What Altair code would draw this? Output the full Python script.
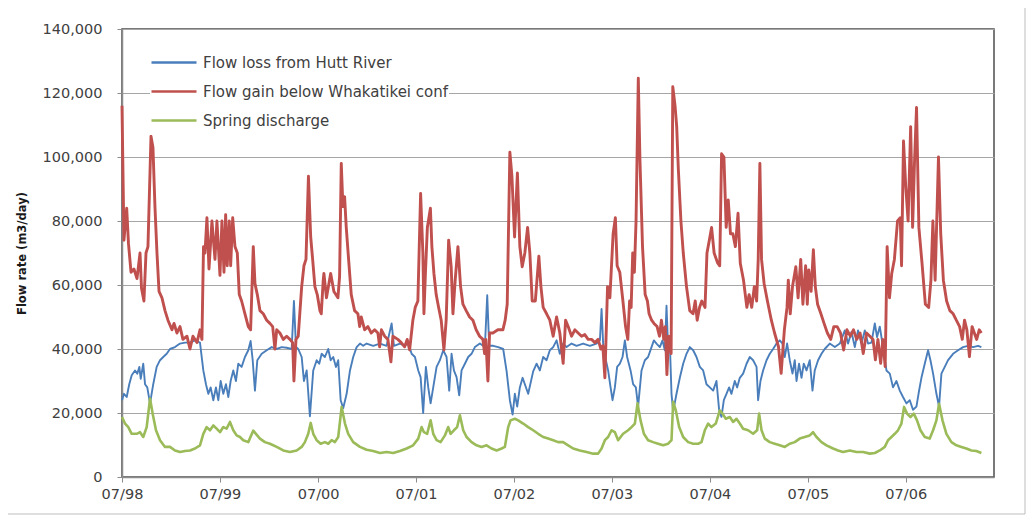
import altair as alt
import pandas as pd

SERIES = ["Flow loss from Hutt River", "Flow gain below Whakatikei conf", "Spring discharge"]
COLORS = ["#4a7ebb", "#c0504d", "#9bbb59"]
WIDTHS = [1.9, 2.9, 2.6]

# (decimal year, thousand m3/day)
flow_loss = [(1998.500,24),(1998.520,26),(1998.548,25),(1998.574,29),(1998.599,31.8),(1998.633,33.3),(1998.656,32.3),(1998.677,34.4),(1998.691,30.7),(1998.717,35.4),(1998.735,29),(1998.758,28),(1998.786,23),(1998.819,29),(1998.854,34.4),(1998.888,36.5),(1998.921,37.5),(1998.956,38.5),(1998.990,40),(1999.041,40.6),(1999.092,41.7),(1999.143,42),(1999.194,42),(1999.245,42.7),(1999.296,42),(1999.330,33.3),(1999.357,29),(1999.381,26),(1999.405,28),(1999.432,24),(1999.459,28),(1999.483,24),(1999.507,30),(1999.534,26),(1999.561,29),(1999.585,25),(1999.609,30),(1999.636,33.3),(1999.663,30),(1999.687,35.4),(1999.721,34.4),(1999.755,37.5),(1999.789,39.6),(1999.813,42.5),(1999.834,36.5),(1999.857,27),(1999.881,36.5),(1999.926,38.5),(1999.977,39.6),(2000.028,40.6),(2000.079,40),(2000.130,40.6),(2000.181,40.4),(2000.232,40),(2000.255,55),(2000.276,40.6),(2000.299,40),(2000.334,37.5),(2000.357,30),(2000.385,33.3),(2000.418,19),(2000.452,33.3),(2000.487,36.5),(2000.513,35.4),(2000.538,38.5),(2000.571,37.5),(2000.605,40),(2000.630,36.5),(2000.656,37.5),(2000.684,34.4),(2000.707,36.5),(2000.732,24),(2000.758,21.5),(2000.793,26),(2000.827,33.3),(2000.860,37.5),(2000.895,40.6),(2000.929,41.7),(2000.962,41),(2000.997,41.7),(2001.064,41),(2001.133,41.7),(2001.201,41),(2001.252,48),(2001.276,41),(2001.337,41.7),(2001.388,41),(2001.421,42),(2001.456,38.5),(2001.490,37.5),(2001.524,33.3),(2001.548,31.2),(2001.574,20),(2001.602,34.4),(2001.626,28),(2001.650,23),(2001.677,28),(2001.711,34.4),(2001.745,36.5),(2001.779,39.6),(2001.813,37.5),(2001.840,27),(2001.864,38.5),(2001.888,33.3),(2001.915,31.2),(2001.942,25.5),(2001.966,33.3),(2002.000,35.4),(2002.034,37.5),(2002.068,38.5),(2002.102,40.6),(2002.153,41.7),(2002.204,40.6),(2002.228,56.8),(2002.248,41),(2002.289,41),(2002.340,40.6),(2002.391,40),(2002.426,33),(2002.459,24),(2002.487,19.5),(2002.510,26),(2002.534,22),(2002.561,28),(2002.589,31),(2002.612,29),(2002.646,26),(2002.697,33),(2002.732,35.4),(2002.765,33.3),(2002.799,37.5),(2002.834,36.5),(2002.867,39.6),(2002.901,40.6),(2002.936,42.7),(2002.969,38.5),(2003.003,41.7),(2003.038,40.6),(2003.089,41.7),(2003.140,41),(2003.207,41.7),(2003.276,41),(2003.344,41.7),(2003.378,42.7),(2003.395,52.5),(2003.411,41.7),(2003.439,36.5),(2003.462,33.3),(2003.487,28),(2003.507,24),(2003.531,28),(2003.554,34.4),(2003.582,35.4),(2003.609,37.5),(2003.633,42.7),(2003.656,37.5),(2003.691,33.3),(2003.717,29),(2003.745,28),(2003.768,22),(2003.803,33.3),(2003.837,36.5),(2003.870,37.5),(2003.905,40.6),(2003.929,42.7),(2003.956,41.7),(2003.990,40.6),(2004.017,42.7),(2004.041,39.6),(2004.058,53.5),(2004.075,39.6),(2004.092,41.7),(2004.109,26),(2004.126,20.5),(2004.160,26),(2004.194,31),(2004.228,35.4),(2004.262,38.5),(2004.296,40.6),(2004.330,39.6),(2004.364,37.5),(2004.398,34.4),(2004.432,33.3),(2004.466,29),(2004.500,28),(2004.534,27),(2004.568,30),(2004.595,21),(2004.619,18.8),(2004.643,24),(2004.670,26),(2004.697,28),(2004.721,26),(2004.755,30),(2004.779,28),(2004.806,31),(2004.840,32.3),(2004.875,35.4),(2004.908,37.5),(2004.942,36.5),(2004.977,34.4),(2004.993,24),(2005.017,30),(2005.044,33.3),(2005.079,36.5),(2005.112,38.5),(2005.146,40),(2005.181,41.7),(2005.214,42.7),(2005.242,41.7),(2005.265,37.5),(2005.289,41.7),(2005.316,36.5),(2005.344,32.3),(2005.367,36.5),(2005.385,30),(2005.411,35.4),(2005.436,31),(2005.459,35.4),(2005.487,33.3),(2005.520,36.5),(2005.548,27),(2005.571,33.3),(2005.605,36.5),(2005.640,38.5),(2005.673,40),(2005.724,41.7),(2005.776,40.6),(2005.827,41.7),(2005.878,45.8),(2005.911,41.7),(2005.946,45.3),(2005.980,40.6),(2006.013,45.8),(2006.048,41.7),(2006.082,45.8),(2006.115,41.7),(2006.150,42),(2006.184,48),(2006.207,43.75),(2006.235,47),(2006.268,40.6),(2006.303,33.3),(2006.337,32.3),(2006.370,28),(2006.405,30),(2006.439,27),(2006.472,25),(2006.507,23),(2006.541,24),(2006.574,21),(2006.609,22),(2006.636,27),(2006.660,31),(2006.694,35.4),(2006.728,39.6),(2006.752,36.5),(2006.779,32.3),(2006.813,26),(2006.840,22),(2006.864,32.3),(2006.898,34.4),(2006.932,36.5),(2006.983,38.5),(2007.034,39.6),(2007.085,40.6),(2007.136,41),(2007.187,40.6),(2007.238,41),(2007.272,40.6)]

flow_gain = [(1998.500,116),(1998.520,74),(1998.548,84),(1998.566,73),(1998.592,64),(1998.622,65),(1998.653,62),(1998.684,70),(1998.699,59),(1998.724,55),(1998.745,70),(1998.765,72),(1998.796,106.5),(1998.816,103),(1998.837,84),(1998.857,70),(1998.878,58),(1998.908,56),(1998.939,52),(1998.969,49),(1999.010,46),(1999.031,48),(1999.061,45),(1999.092,47),(1999.122,43),(1999.163,44),(1999.194,40),(1999.224,44),(1999.265,42),(1999.296,46),(1999.316,43),(1999.332,72),(1999.347,70),(1999.367,81),(1999.388,65),(1999.418,80),(1999.449,68),(1999.469,80),(1999.500,63),(1999.520,80),(1999.541,64),(1999.558,82),(1999.574,66),(1999.595,80),(1999.609,66),(1999.630,81),(1999.653,72),(1999.677,70),(1999.697,57),(1999.721,55),(1999.755,51),(1999.789,47),(1999.813,46),(1999.840,72),(1999.857,60.5),(1999.881,57),(1999.908,52),(1999.942,51),(1999.977,49),(2000.010,48),(2000.038,47),(2000.061,40),(2000.079,46),(2000.112,45),(2000.146,43),(2000.181,44),(2000.214,43),(2000.242,42),(2000.255,30),(2000.276,43),(2000.299,44),(2000.334,59.5),(2000.357,66),(2000.378,68),(2000.403,94),(2000.426,75),(2000.446,68),(2000.469,59.5),(2000.493,57),(2000.520,52),(2000.534,51),(2000.554,61.5),(2000.561,63.6),(2000.587,56),(2000.630,63.6),(2000.663,58),(2000.704,56),(2000.721,62.6),(2000.738,98),(2000.755,84.5),(2000.772,87.6),(2000.789,78),(2000.813,68),(2000.840,57),(2000.874,52),(2000.908,51),(2000.926,47),(2000.942,50),(2000.977,46),(2001.010,47),(2001.044,45),(2001.079,46),(2001.112,45),(2001.130,40.7),(2001.148,46),(2001.181,44),(2001.214,43),(2001.245,36),(2001.265,44),(2001.316,43),(2001.350,42),(2001.385,40.7),(2001.411,43),(2001.436,39.7),(2001.469,49),(2001.493,53),(2001.520,55),(2001.548,88.6),(2001.571,70),(2001.582,51),(2001.597,63.6),(2001.617,78),(2001.648,84),(2001.663,72),(2001.684,63.6),(2001.707,57),(2001.732,53),(2001.758,49),(2001.786,39.7),(2001.809,49),(2001.834,74),(2001.860,65.7),(2001.878,51),(2001.901,61.5),(2001.929,72),(2001.956,59.5),(2001.980,54),(2002.013,52),(2002.048,50),(2002.082,49),(2002.115,46),(2002.150,44),(2002.184,43),(2002.201,38.6),(2002.214,43),(2002.235,30),(2002.252,45),(2002.286,45),(2002.337,46),(2002.388,46),(2002.411,49),(2002.432,54),(2002.459,101.5),(2002.480,94),(2002.507,75),(2002.536,95),(2002.561,72),(2002.585,65.7),(2002.612,70),(2002.640,78),(2002.663,70),(2002.687,55),(2002.719,55),(2002.755,69),(2002.776,59.5),(2002.799,53),(2002.834,51),(2002.867,49),(2002.901,44),(2002.936,50),(2002.969,45),(2003.003,35.5),(2003.028,49),(2003.054,47),(2003.089,44),(2003.122,46),(2003.156,45),(2003.191,44),(2003.224,44.5),(2003.258,43),(2003.293,43),(2003.327,42),(2003.360,43),(2003.388,40),(2003.408,41),(2003.429,31),(2003.456,59.5),(2003.480,56),(2003.513,76),(2003.536,81),(2003.554,66),(2003.581,64),(2003.613,55),(2003.640,47),(2003.663,43),(2003.681,55),(2003.697,53),(2003.713,70),(2003.730,64),(2003.747,80),(2003.770,124.6),(2003.787,99),(2003.813,72),(2003.840,57),(2003.863,55),(2003.880,51),(2003.906,49),(2003.930,48),(2003.962,47),(2003.986,44),(2004.006,49),(2004.030,43),(2004.046,47),(2004.062,32),(2004.079,44),(2004.105,38.6),(2004.122,122),(2004.146,115.7),(2004.162,109.5),(2004.179,96),(2004.205,80),(2004.229,70),(2004.262,59.5),(2004.295,52),(2004.329,51),(2004.351,55),(2004.371,49),(2004.395,53),(2004.418,55),(2004.451,53),(2004.471,70),(2004.495,74),(2004.518,78),(2004.544,70),(2004.578,67),(2004.601,66),(2004.620,101),(2004.644,100),(2004.667,78),(2004.688,86.6),(2004.711,76),(2004.735,76),(2004.761,72),(2004.788,82.4),(2004.811,66.8),(2004.844,61.5),(2004.878,53),(2004.901,57),(2004.928,53),(2004.954,59.5),(2004.978,55),(2004.994,68),(2005.011,98),(2005.028,68),(2005.054,60.5),(2005.088,55),(2005.128,49),(2005.161,45),(2005.201,40.7),(2005.228,32.4),(2005.261,46),(2005.288,53),(2005.301,61.5),(2005.321,51),(2005.344,59.5),(2005.378,65.7),(2005.401,56),(2005.428,68),(2005.450,54),(2005.478,66),(2005.495,54),(2005.510,64.7),(2005.534,58),(2005.557,71),(2005.577,59.5),(2005.600,54),(2005.634,51),(2005.666,48),(2005.700,45),(2005.734,43),(2005.766,47),(2005.800,47),(2005.834,45),(2005.866,39.7),(2005.900,46),(2005.934,44),(2005.966,46),(2006.000,43),(2006.034,45),(2006.066,38.6),(2006.100,45),(2006.134,44),(2006.166,43),(2006.190,36.6),(2006.216,43),(2006.244,35.5),(2006.266,43),(2006.290,34.5),(2006.310,72),(2006.334,56),(2006.357,63.6),(2006.384,68),(2006.416,80),(2006.444,81),(2006.457,66),(2006.477,105),(2006.500,90.7),(2006.524,80),(2006.550,109.5),(2006.570,78),(2006.590,99),(2006.610,115.5),(2006.634,78),(2006.666,66.8),(2006.700,54),(2006.734,53),(2006.757,61.5),(2006.777,80),(2006.800,61.5),(2006.834,100),(2006.857,76),(2006.884,61.5),(2006.917,55),(2006.950,52),(2006.984,51),(2007.016,49),(2007.050,47),(2007.077,43),(2007.100,49),(2007.124,46),(2007.150,37.6),(2007.177,47),(2007.200,45),(2007.224,43),(2007.250,46),(2007.272,45)]

spring = [(1998.500,18.75),(1998.531,16.7),(1998.564,15.6),(1998.599,13.5),(1998.650,13.5),(1998.684,14),(1998.717,12.5),(1998.752,15.6),(1998.786,24.5),(1998.813,19.8),(1998.847,14.6),(1998.888,11.5),(1998.939,9.4),(1998.990,9.4),(1999.041,8.3),(1999.092,7.8),(1999.143,8.1),(1999.194,8.3),(1999.245,8.9),(1999.296,9.9),(1999.330,13.5),(1999.364,15.6),(1999.398,14.6),(1999.432,16.1),(1999.466,15.1),(1999.500,14),(1999.534,15.6),(1999.568,15.1),(1999.602,17.2),(1999.636,14.6),(1999.670,13),(1999.704,12.5),(1999.738,11.5),(1999.789,10.9),(1999.840,14.5),(1999.867,13.5),(1999.908,12),(1999.959,10.9),(2000.010,10.4),(2000.079,9.4),(2000.146,8.3),(2000.214,7.8),(2000.283,8.3),(2000.334,9.4),(2000.367,10.9),(2000.401,13.5),(2000.426,16.9),(2000.452,13.5),(2000.487,11.5),(2000.528,10.4),(2000.571,10.9),(2000.605,10.4),(2000.640,11.5),(2000.673,10.9),(2000.707,12.5),(2000.742,21.9),(2000.776,16.7),(2000.809,13.5),(2000.860,10.9),(2000.929,9.4),(2000.997,8.5),(2001.064,8.1),(2001.133,7.5),(2001.201,7.8),(2001.268,7.5),(2001.337,8.1),(2001.405,8.9),(2001.472,9.9),(2001.524,12),(2001.558,15.6),(2001.582,14),(2001.615,13.5),(2001.650,17.7),(2001.677,13.5),(2001.711,11.5),(2001.752,10.9),(2001.796,13),(2001.830,15.6),(2001.854,13.5),(2001.888,14.6),(2001.921,15.6),(2001.949,19.3),(2001.983,14.6),(2002.017,12.5),(2002.068,10.9),(2002.119,9.9),(2002.170,9.4),(2002.221,9.9),(2002.272,8.9),(2002.324,8.3),(2002.375,8.9),(2002.408,9.4),(2002.442,15.6),(2002.466,17.7),(2002.510,18.2),(2002.544,17.7),(2002.595,16.7),(2002.646,15.6),(2002.697,14.6),(2002.748,13.5),(2002.799,12.5),(2002.850,12),(2002.901,11.5),(2002.952,10.9),(2003.003,10.9),(2003.054,9.9),(2003.105,8.9),(2003.173,8.3),(2003.242,7.8),(2003.309,7.3),(2003.360,7.3),(2003.395,8.9),(2003.429,11.5),(2003.462,12.5),(2003.497,14.6),(2003.531,14),(2003.564,11.5),(2003.615,13.5),(2003.666,14.6),(2003.701,15.6),(2003.735,16.7),(2003.762,23),(2003.793,17.7),(2003.827,13.5),(2003.870,11.5),(2003.921,10.9),(2003.972,10.4),(2004.024,9.9),(2004.075,10.4),(2004.109,11.5),(2004.126,23.5),(2004.153,20.8),(2004.187,15.6),(2004.228,12.5),(2004.279,10.9),(2004.330,10.4),(2004.381,10.4),(2004.415,10.9),(2004.449,14.6),(2004.483,16.7),(2004.517,15.6),(2004.561,16.7),(2004.602,20.8),(2004.630,19.8),(2004.663,18.2),(2004.704,18.75),(2004.738,17.2),(2004.772,18.2),(2004.806,16.7),(2004.840,15.1),(2004.891,14.6),(2004.942,13.5),(2004.983,14.6),(2005.003,19.8),(2005.028,14.6),(2005.061,12),(2005.112,10.9),(2005.163,10.4),(2005.214,9.9),(2005.265,9.4),(2005.316,10.4),(2005.367,10.9),(2005.418,12),(2005.469,12.5),(2005.520,13),(2005.554,14),(2005.589,12.5),(2005.640,10.9),(2005.691,9.9),(2005.758,8.9),(2005.809,8.3),(2005.860,7.8),(2005.929,8.3),(2005.997,7.8),(2006.064,7.8),(2006.133,7.3),(2006.184,7.5),(2006.235,8.3),(2006.286,9.4),(2006.319,11.5),(2006.354,12.5),(2006.388,13.5),(2006.421,14.6),(2006.456,16.7),(2006.483,21.9),(2006.513,19.8),(2006.548,18.75),(2006.582,19.8),(2006.615,17.7),(2006.650,14.6),(2006.694,12.5),(2006.745,12),(2006.779,14.6),(2006.813,17.7),(2006.840,22.9),(2006.875,17.7),(2006.915,13.5),(2006.966,10.9),(2007.017,9.9),(2007.068,9.4),(2007.119,8.9),(2007.170,8.3),(2007.221,8.1),(2007.272,7.5)]

TICK_YEARS = list(range(1998, 2007))
Y_TICKS = list(range(0, 140001, 20000))


def to_rows(pairs, name):
    base = pd.Timestamp("1998-07-01")
    rows = []
    for yr, v in pairs:
        d = base + pd.to_timedelta((yr - 1998.5) * 365.25, unit="D")
        rows.append({"date": d.strftime("%Y-%m-%dT%H:%M:%S"), "value": v * 1000, "series": name})
    return rows


df = pd.DataFrame(to_rows(flow_loss, SERIES[0]) + to_rows(flow_gain, SERIES[1]) + to_rows(spring, SERIES[2]))

FONT = "DejaVu Sans"

x_enc = alt.X(
    "date:T",
    title=None,
    scale=alt.Scale(domain=[alt.DateTime(year=1998, month=7, date=1), alt.DateTime(year=2007, month=5, date=26)]),
    axis=alt.Axis(
        values=[alt.DateTime(year=y, month=7, date=1) for y in TICK_YEARS],
        format="%m/%y", grid=False, labelFlush=False, labelOverlap=False,
        labelFont=FONT, labelFontSize=14.5, labelColor="#404040", labelPadding=5,
        tickSize=5, tickColor="#8c8c8c", domainColor="#8c8c8c", domainWidth=1.5,
    ),
)
y_enc = alt.Y(
    "value:Q",
    title="Flow rate (m3/day)",
    scale=alt.Scale(domain=[0, 140000], nice=False),
    axis=alt.Axis(
        values=Y_TICKS, format=",d", grid=True, gridColor="#a6a6a6", gridWidth=1,
        labelFlush=False, labelFont=FONT, labelFontSize=14.5, labelColor="#404040", labelPadding=15,
        tickSize=5, tickColor="#8c8c8c", domainColor="#8c8c8c", domainWidth=1.5,
        titleFont=FONT, titleFontSize=11.5, titleFontWeight="bold", titleColor="#1a1a1a",
        titleX=-100, titleY=224, titleAngle=270, titleAlign="center", titleBaseline="middle",
    ),
)
color_enc = alt.Color(
    "series:N",
    scale=alt.Scale(domain=SERIES, range=COLORS),
    legend=alt.Legend(
        orient="none", legendX=28, legendY=19, title=None,
        symbolType="stroke", symbolSize=2025, symbolStrokeWidth=2.6,
        labelFont=FONT, labelFontSize=15, labelColor="#404040", labelOffset=5,
        fillColor="white", padding=0, rowPadding=0, clipHeight=29, labelLimit=400,
    ),
)

base = alt.Chart(df).encode(x=x_enc, y=y_enc, color=color_enc)
lines = [
    base.transform_filter(alt.datum.series == s).mark_line(strokeWidth=w, strokeJoin="round")
    for s, w in zip(SERIES, WIDTHS)
]

frame = alt.Chart(alt.Data(values=[{}])).mark_rect(fill="transparent", stroke="#bdbdbd", strokeWidth=1).encode(
    x=alt.value(-115), x2=alt.value(903), y=alt.value(-24), y2=alt.value(485)
)

chart = alt.layer(frame, *lines).properties(
    width=872,
    height=448,
    autosize=alt.AutoSizeParams(type="none"),
    padding={"left": 114, "top": 21, "right": 34, "bottom": 39},
).configure_view(stroke="#4d4d4d", strokeWidth=1.5)

chart.save("out.html", embed_options={"renderer": "svg", "actions": False})
